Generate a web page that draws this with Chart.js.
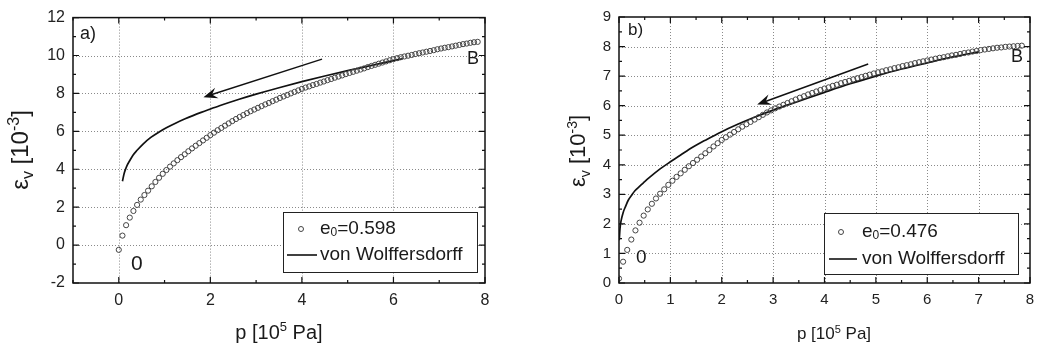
<!DOCTYPE html>
<html lang="en">
<head>
<meta charset="UTF-8">
<title>Volumetric strain vs pressure</title>
<script src="https://cdn.jsdelivr.net/npm/chart.js"></script>
<style>
  body { margin: 0; background: #fff; }
  canvas { position: absolute; top: 0; }
</style>
</head>
<body>
<canvas id="panelA" width="521" height="349" style="left:0"></canvas>
<canvas id="panelB" width="522" height="349" style="left:521px"></canvas>
<script>
// measured points (same pressure steps in both tests), p in 10^5 Pa
const pMeasured = [0.00,0.08,0.16,0.24,0.32,0.40,0.48,0.56,0.64,0.72,0.80,0.88,0.96,1.04,1.12,1.20,1.28,1.36,1.44,1.52,
  1.60,1.68,1.76,1.84,1.92,2.00,2.08,2.16,2.24,2.32,2.40,2.48,2.56,2.64,2.72,2.80,2.88,2.96,3.04,3.12,
  3.20,3.28,3.36,3.44,3.52,3.60,3.68,3.76,3.84,3.92,4.00,4.08,4.16,4.24,4.32,4.40,4.48,4.56,4.64,4.72,
  4.80,4.88,4.96,5.04,5.12,5.20,5.28,5.36,5.44,5.52,5.60,5.68,5.76,5.84,5.92,6.00,6.08,6.16,6.24,6.32,
  6.40,6.48,6.56,6.64,6.72,6.80,6.88,6.96,7.04,7.12,7.20,7.28,7.36,7.44,7.52,7.60,7.68,7.76,7.84];

// a) e0 = 0.598, strain in 10^-3
const epsA = [-0.25,0.50,1.05,1.45,1.80,2.12,2.40,2.64,2.87,3.10,3.33,3.55,3.76,3.96,4.14,4.31,4.48,4.64,4.79,4.95,
  5.10,5.24,5.38,5.52,5.66,5.80,5.93,6.06,6.18,6.30,6.42,6.54,6.65,6.76,6.86,6.96,7.06,7.15,7.24,7.33,
  7.42,7.50,7.59,7.67,7.76,7.84,7.92,8.00,8.08,8.16,8.24,8.31,8.37,8.44,8.50,8.57,8.63,8.70,8.76,8.83,
  8.89,8.95,9.02,9.08,9.14,9.20,9.26,9.32,9.39,9.45,9.51,9.57,9.63,9.69,9.75,9.81,9.86,9.91,9.95,9.99,
  10.03,10.08,10.12,10.16,10.20,10.24,10.28,10.33,10.37,10.41,10.44,10.48,10.52,10.56,10.60,10.63,10.67,10.70,10.72];

// b) e0 = 0.476
const epsB = [0.15,0.72,1.12,1.47,1.78,2.04,2.28,2.49,2.68,2.86,3.02,3.17,3.32,3.46,3.59,3.71,3.83,3.95,4.06,4.17,
  4.28,4.39,4.50,4.62,4.73,4.84,4.93,5.02,5.11,5.20,5.29,5.37,5.45,5.53,5.61,5.69,5.77,5.84,5.91,5.97,
  6.03,6.09,6.15,6.21,6.27,6.32,6.38,6.43,6.48,6.53,6.58,6.62,6.67,6.71,6.76,6.80,6.84,6.89,6.93,6.97,
  7.01,7.05,7.09,7.13,7.16,7.20,7.23,7.27,7.30,7.34,7.37,7.40,7.44,7.47,7.50,7.53,7.56,7.59,7.62,7.64,
  7.67,7.70,7.72,7.75,7.78,7.80,7.83,7.85,7.88,7.90,7.92,7.94,7.96,7.97,7.99,8.00,8.01,8.02,8.03];

// von Wolffersdorff simulation curves
const modelPA = [0.08,0.12,0.17,0.25,0.31,0.40,0.53,0.70,0.89,1.05,1.25,1.45,1.62,1.80,1.98,2.20,2.41,2.63,3.00,3.50,4.00,4.50,5.00,5.50,6.00,6.20];
const modelEpsA = [3.37,3.80,4.14,4.50,4.74,5.00,5.33,5.68,5.98,6.20,6.44,6.66,6.83,7.00,7.16,7.35,7.52,7.69,7.96,8.30,8.62,8.92,9.20,9.47,9.73,9.83];
const modelPB = [0.005,0.02,0.04,0.08,0.13,0.18,0.25,0.31,0.40,0.47,0.60,0.80,1.00,1.20,1.44,1.70,2.00,2.30,2.60,3.00,3.50,4.00,4.50,5.00,5.50,6.00,6.50,7.00];
const modelEpsB = [1.45,1.85,2.10,2.38,2.60,2.80,2.98,3.12,3.27,3.38,3.58,3.86,4.10,4.33,4.60,4.85,5.12,5.36,5.58,5.85,6.15,6.45,6.74,7.00,7.24,7.45,7.65,7.82];

// axis ticks
const xTicksA = [0, 2, 4, 6, 8];
const xMinorA = [-1, 1, 3, 5, 7];
const yTicksA = [-2, 0, 2, 4, 6, 8, 10, 12];
const yMinorA = [-1, 1, 3, 5, 7, 9, 11];
const xTicksB = [0, 1, 2, 3, 4, 5, 6, 7, 8];
const xMinorB = [0.5, 1.5, 2.5, 3.5, 4.5, 5.5, 6.5, 7.5];
const yTicksB = [0, 1, 2, 3, 4, 5, 6, 7, 8, 9];
const yMinorB = [0.5, 1.5, 2.5, 3.5, 4.5, 5.5, 6.5, 7.5, 8.5];

// loading direction arrows (data coords: tail, head)
const arrowA = [[4.44, 9.81], [1.85, 7.80]];
const arrowB = [[4.85, 7.41], [2.69, 6.04]];

const FONT = '"Liberation Sans", Arial, sans-serif';

// text with sub/superscript pieces
function richWidth(ctx, parts, size) {
  let w = 0;
  parts.forEach(([t, k]) => {
    ctx.font = (k === 'n' ? size : Math.round(size * 0.65)) + 'px ' + FONT;
    w += ctx.measureText(t).width;
  });
  return w;
}
function drawRich(ctx, parts, x, y, size, align) {
  const w = richWidth(ctx, parts, size);
  let cx = align === 'center' ? x - w / 2 : x;
  ctx.textAlign = 'left';
  parts.forEach(([t, k]) => {
    const s = k === 'n' ? size : Math.round(size * 0.65);
    ctx.font = s + 'px ' + FONT;
    const dy = k === 'sup' ? -size * 0.38 : (k === 'sub' ? size * 0.22 : 0);
    ctx.fillText(t, cx, y + dy);
    cx += ctx.measureText(t).width;
  });
}

const decor = {
  id: 'decor',
  beforeDatasetsDraw(chart, args, o) {
    const { ctx, chartArea: a, scales: { x, y } } = chart;
    ctx.save();
    ctx.strokeStyle = '#8a8a8a';
    ctx.lineWidth = 1;
    ctx.setLineDash([1, 2]);
    o.xTicks.forEach(v => {
      const px = Math.round(x.getPixelForValue(v)) + 0.5;
      if (px < a.left + 2 || px > a.right - 2) return;
      ctx.beginPath(); ctx.moveTo(px, a.top); ctx.lineTo(px, a.bottom); ctx.stroke();
    });
    o.yTicks.forEach(v => {
      const py = Math.round(y.getPixelForValue(v)) + 0.5;
      if (py < a.top + 2 || py > a.bottom - 2) return;
      ctx.beginPath(); ctx.moveTo(a.left, py); ctx.lineTo(a.right, py); ctx.stroke();
    });
    ctx.restore();
  },
  afterDraw(chart, args, o) {
    const { ctx, chartArea: a, scales: { x, y } } = chart;
    ctx.save();
    ctx.strokeStyle = '#111';
    ctx.fillStyle = '#111';
    ctx.lineWidth = 1.5;

    // arrow
    const [t, h] = o.arrow;
    const x1 = x.getPixelForValue(t[0]), y1 = y.getPixelForValue(t[1]);
    const x2 = x.getPixelForValue(h[0]), y2 = y.getPixelForValue(h[1]);
    const ang = Math.atan2(y2 - y1, x2 - x1);
    ctx.beginPath(); ctx.moveTo(x1, y1);
    ctx.lineTo(x2 - 8 * Math.cos(ang), y2 - 8 * Math.sin(ang)); ctx.stroke();
    ctx.beginPath();
    ctx.moveTo(x2, y2);
    ctx.lineTo(x2 - 14 * Math.cos(ang) + 5.5 * Math.sin(ang), y2 - 14 * Math.sin(ang) - 5.5 * Math.cos(ang));
    ctx.lineTo(x2 - 9 * Math.cos(ang), y2 - 9 * Math.sin(ang));
    ctx.lineTo(x2 - 14 * Math.cos(ang) - 5.5 * Math.sin(ang), y2 - 14 * Math.sin(ang) + 5.5 * Math.cos(ang));
    ctx.closePath(); ctx.fill();

    // frame + inward ticks
    ctx.lineWidth = 1.5;
    ctx.strokeRect(a.left, a.top, a.right - a.left, a.bottom - a.top);
    ctx.lineWidth = 1.2;
    const tick = (vals, len) => {
      vals.forEach(v => {
        const px = x.getPixelForValue(v);
        if (px < a.left - 1 || px > a.right + 1) return;
        ctx.beginPath();
        ctx.moveTo(px, a.bottom); ctx.lineTo(px, a.bottom - len);
        ctx.moveTo(px, a.top); ctx.lineTo(px, a.top + len);
        ctx.stroke();
      });
    };
    const tickY = (vals, len) => {
      vals.forEach(v => {
        const py = y.getPixelForValue(v);
        if (py < a.top - 1 || py > a.bottom + 1) return;
        ctx.beginPath();
        ctx.moveTo(a.left, py); ctx.lineTo(a.left + len, py);
        ctx.moveTo(a.right, py); ctx.lineTo(a.right - len, py);
        ctx.stroke();
      });
    };
    tick(o.xTicks, 6); tick(o.xMinor, 3);
    tickY(o.yTicks, 6); tickY(o.yMinor, 3);

    // panel labels
    ctx.fillStyle = '#1a1a1a';
    ctx.textBaseline = 'alphabetic';
    o.notes.forEach(n => {
      ctx.font = n.size + 'px ' + FONT;
      ctx.textAlign = 'left';
      ctx.fillText(n.text, n.x, n.y);
    });

    // axis titles
    drawRich(ctx, o.xTitle, o.xTitlePos[0], o.xTitlePos[1], o.xTitleSize, 'center');
    ctx.save();
    ctx.translate(o.yTitlePos[0], o.yTitlePos[1]);
    ctx.rotate(-Math.PI / 2);
    drawRich(ctx, o.yTitle, 0, 0, o.yTitleSize, 'center');
    ctx.restore();

    // legend
    const L = o.legend;
    ctx.fillStyle = '#fff';
    ctx.fillRect(L.x, L.y, L.w, L.h);
    ctx.strokeStyle = '#222';
    ctx.lineWidth = 1;
    ctx.strokeRect(L.x + 0.5, L.y + 0.5, L.w, L.h);
    ctx.strokeStyle = '#444';
    ctx.beginPath(); ctx.arc(L.markX, L.row1, 2.5, 0, Math.PI * 2); ctx.stroke();
    ctx.strokeStyle = '#111';
    ctx.lineWidth = 1.6;
    ctx.beginPath(); ctx.moveTo(L.lineX[0], L.row2); ctx.lineTo(L.lineX[1], L.row2); ctx.stroke();
    ctx.fillStyle = '#1a1a1a';
    ctx.textBaseline = 'middle';
    drawRich(ctx, L.label1, L.textX, L.row1, L.size, 'left');
    drawRich(ctx, [[chart.data.datasets[1].label, 'n']], L.textX, L.row2, L.size, 'left');
    ctx.restore();
  }
};

function makeChart(id, c) {
  return new Chart(document.getElementById(id), {
    type: 'scatter',
    data: {
      datasets: [
        {
          label: c.circLabel,
          data: pMeasured.map((p, i) => ({ x: p, y: c.eps[i] })),
          showLine: false,
          pointRadius: 2.6,
          pointBorderWidth: 1,
          pointBorderColor: '#444',
          pointBackgroundColor: 'rgba(0,0,0,0)'
        },
        {
          label: 'von Wolffersdorff',
          data: c.modelP.map((p, i) => ({ x: p, y: c.modelEps[i] })),
          showLine: true,
          borderColor: '#111',
          borderWidth: 1.7,
          pointRadius: 0,
          cubicInterpolationMode: 'monotone'
        }
      ]
    },
    options: {
      responsive: false,
      animation: false,
      events: [],
      layout: { padding: { left: 0, top: 10, right: c.padRight, bottom: 0 } },
      plugins: { legend: { display: false }, tooltip: { enabled: false }, decor: c.decor },
      scales: {
        x: {
          type: 'linear', min: c.xMin, max: c.xMax,
          afterBuildTicks: s => { s.ticks = c.decor.xTicks.map(v => ({ value: v })); },
          afterFit: s => { s.height = 66; },
          grid: { display: false, drawTicks: false },
          border: { display: false },
          ticks: { autoSkip: false, padding: 8, color: '#222', font: { family: FONT, size: c.tickSize } }
        },
        y: {
          type: 'linear', min: c.yMin, max: c.yMax,
          afterBuildTicks: s => { s.ticks = c.decor.yTicks.map(v => ({ value: v })); },
          afterFit: s => { s.width = c.yAxisW; },
          grid: { display: false, drawTicks: false },
          border: { display: false },
          ticks: { autoSkip: false, padding: 8, color: '#222', font: { family: FONT, size: c.tickSize } }
        }
      }
    },
    plugins: [decor]
  });
}

makeChart('panelA', {
  circLabel: 'e0=0.598', eps: epsA, modelP: modelPA, modelEps: modelEpsA,
  xMin: -1, xMax: 8, yMin: -2, yMax: 12, padRight: 36, yAxisW: 73, tickSize: 16,
  decor: {
    xTicks: xTicksA, xMinor: xMinorA, yTicks: yTicksA, yMinor: yMinorA, arrow: arrowA,
    notes: [{ text: 'a)', x: 80, y: 39, size: 18 }, { text: '0', x: 131, y: 270, size: 21 }, { text: 'B', x: 467, y: 64, size: 18 }],
    xTitle: [['p [10', 'n'], ['5', 'sup'], [' Pa]', 'n']], xTitlePos: [279, 339], xTitleSize: 20,
    yTitle: [['\u03b5', 'n'], ['v', 'sub'], [' [10', 'n'], ['-3', 'sup'], [']', 'n']], yTitlePos: [28, 150], yTitleSize: 24,
    legend: { x: 283, y: 212, w: 194, h: 60, markX: 301, row1: 229, row2: 255, lineX: [287, 317], textX: 320, size: 19,
      label1: [['e', 'n'], ['0', 'sub'], ['=0.598', 'n']] }
  }
});

makeChart('panelB', {
  circLabel: 'e0=0.476', eps: epsB, modelP: modelPB, modelEps: modelEpsB,
  xMin: 0, xMax: 8, yMin: 0, yMax: 9, padRight: 13, yAxisW: 98, tickSize: 15,
  decor: {
    xTicks: xTicksB, xMinor: xMinorB, yTicks: yTicksB, yMinor: yMinorB, arrow: arrowB,
    notes: [{ text: 'b)', x: 107, y: 35, size: 17 }, { text: '0', x: 115, y: 263, size: 19 }, { text: 'B', x: 490, y: 62, size: 18 }],
    xTitle: [['p [10', 'n'], ['5', 'sup'], [' Pa]', 'n']], xTitlePos: [313, 339], xTitleSize: 17,
    yTitle: [['\u03b5', 'n'], ['v', 'sub'], [' [10', 'n'], ['-3', 'sup'], [']', 'n']], yTitlePos: [64, 151], yTitleSize: 22,
    legend: { x: 303, y: 213, w: 194, h: 61, markX: 320, row1: 232, row2: 259, lineX: [308, 336], textX: 341, size: 19,
      label1: [['e', 'n'], ['0', 'sub'], ['=0.476', 'n']] }
  }
});
</script>
</body>
</html>
